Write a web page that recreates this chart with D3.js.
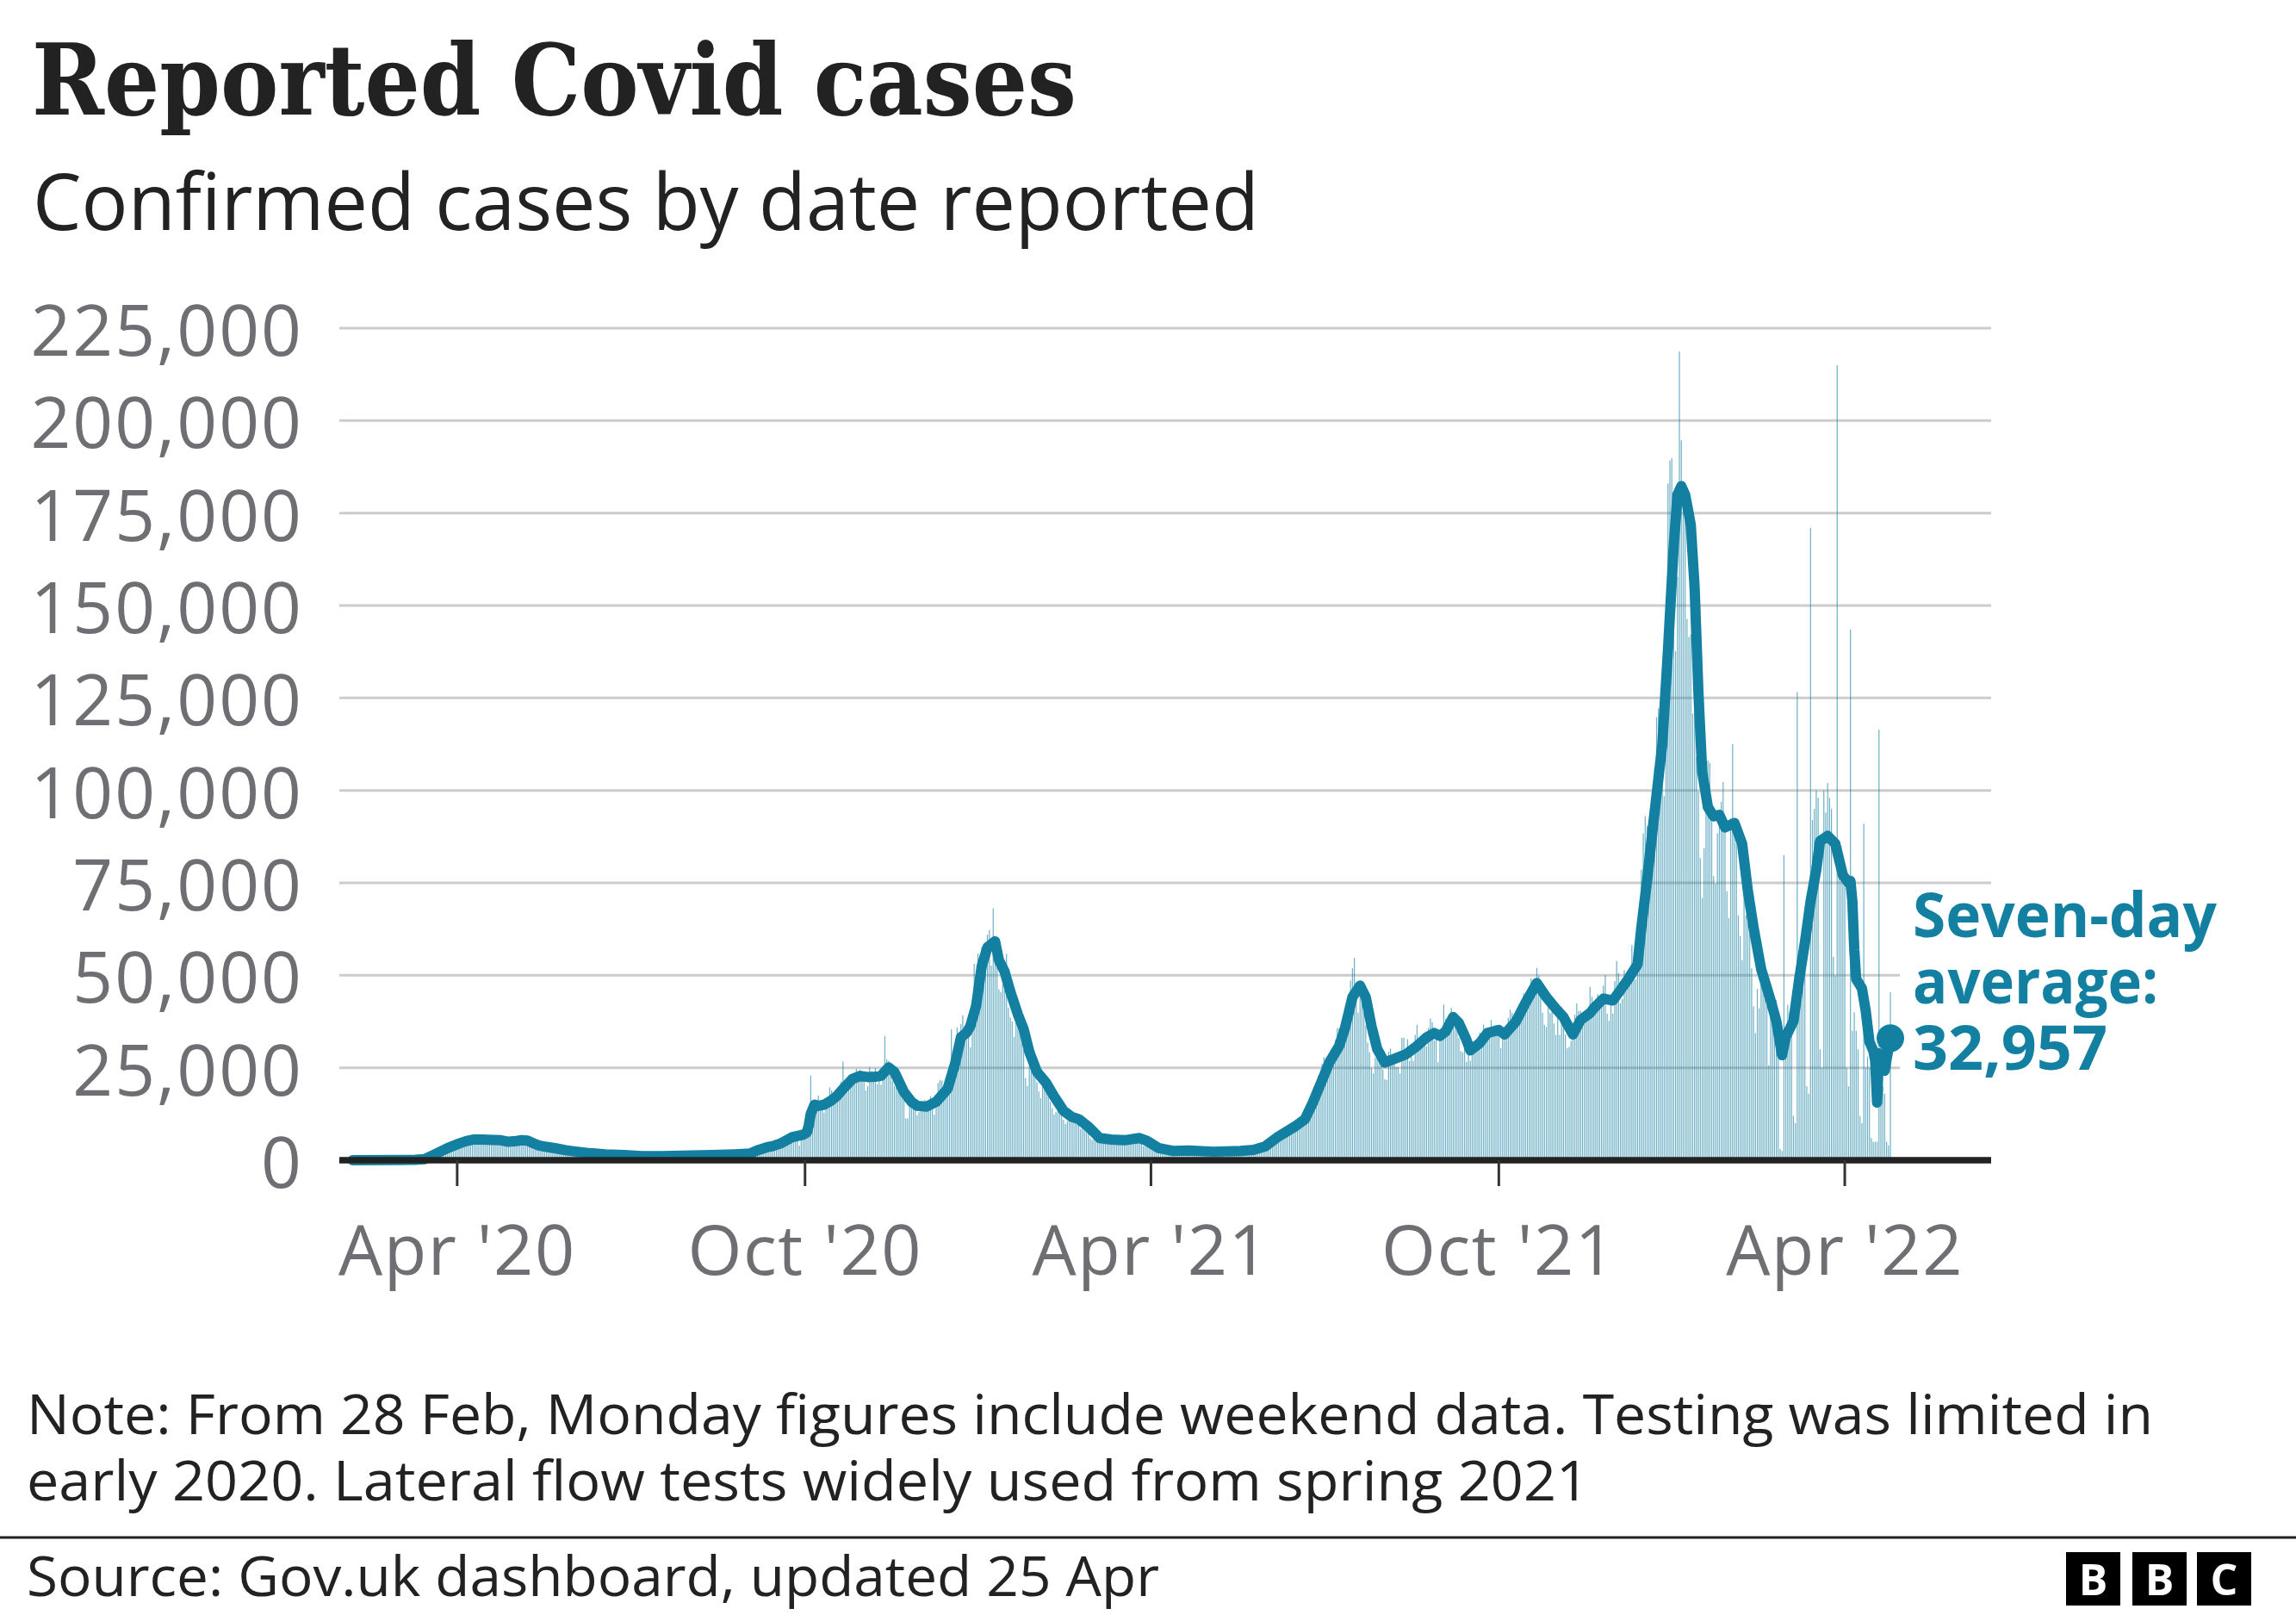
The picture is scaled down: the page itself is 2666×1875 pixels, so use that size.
<!DOCTYPE html>
<html><head><meta charset="utf-8">
<script src="https://cdn.jsdelivr.net/npm/d3@7"></script>
<style>html,body{margin:0;padding:0;background:#fff}svg{display:block}</style>
</head><body>
<svg id="chart" width="2666" height="1875"></svg>
<script>
// ---------------- DATA ----------------
const titleText = "Reported Covid cases";
const subtitleText = "Confirmed cases by date reported";
const noteLines = ["Note: From 28 Feb, Monday figures include weekend data. Testing was limited in",
                   "early 2020. Lateral flow tests widely used from spring 2021"];
const sourceText = "Source: Gov.uk dashboard, updated 25 Apr";
const labelLines = ["Seven-day", "average:", "32,957"];

const yTicks = [0, 25000, 50000, 75000, 100000, 125000, 150000, 175000, 200000, 225000];
const xTickDates = ["2020-04-01", "2020-10-01", "2021-04-01", "2021-10-01", "2022-04-01"];
const xTickLabels = ["Apr '20", "Oct '20", "Apr '21", "Oct '21", "Apr '22"];

// Daily reported cases, thousands, one row per week (Mon..Sun), first day 2020-02-03
const dailyStart = "2020-02-03";
const dailyCases2020 = [
  0,0,0,0,0.001,0,0.003,  0.001,0,0,0,0,0,0,  0,0,0,0,0,0,0.004,  0.004,0.001,0.001,0.011,0.007,0.006,0.013,
  0.004,0.012,0.036,0.029,0.048,0.045,0.069,  0.043,0.062,0.077,0.134,0.208,0.342,0.251,
  0.152,0.407,0.676,0.643,0.714,1.035,0.665,  0.967,1.427,1.452,2.129,2.885,2.546,2.433,
  2.619,3.009,4.324,4.244,4.45,3.735,5.903,  4.5,4.8,6.0,5.5,6.4,5.9,5.6,
  5.2,5.3,5.6,5.9,6.2,5.8,5.5,  5.1,5.0,5.5,5.7,5.9,5.4,5.0,
  4.8,4.7,4.9,5.6,5.4,5.4,5.2,  4.9,5.2,6.0,6.0,5.7,5.2,4.8,
  4.2,4.0,4.1,4.2,4.4,4.1,3.6,  3.3,3.4,3.3,3.3,3.4,3.1,2.8,
  2.5,2.6,2.7,2.8,2.8,2.6,2.4,  2.1,2.3,2.4,2.3,2.3,2.1,1.9,
  1.8,1.9,2.0,1.9,1.8,1.7,1.6,  1.6,1.6,1.7,1.6,1.6,1.5,1.4,
  1.4,1.4,1.5,1.5,1.4,1.3,1.2,  1.2,1.2,1.2,1.2,1.2,1.1,1.0,
  1.0,1.1,1.1,1.1,1.2,1.1,1.0,  1.0,1.1,1.2,1.2,1.2,1.1,1.0,
  1.1,1.2,1.2,1.3,1.3,1.2,1.1,  1.1,1.2,1.3,1.3,1.3,1.3,1.2,
  1.2,1.3,1.4,1.4,1.4,1.3,1.3,  1.3,1.4,1.5,1.5,1.5,1.4,1.3,
  1.4,1.5,1.6,1.6,1.7,1.6,1.5,  1.5,1.6,1.7,1.7,1.8,1.7,1.6,
  1.7,1.8,1.9,2.0,2.9,3.0,3.0,  2.9,2.5,2.7,3.5,3.5,3.5,3.3,
  3.1,3.1,4.0,3.4,4.3,4.4,3.9,  4.4,4.9,6.2,6.6,6.9,6.0,5.7,
  4.0,7.1,7.1,6.9,7.0,12.9,22.9,  12.6,14.5,14.2,17.5,13.9,15.2,12.9,
  13.9,17.2,19.7,18.9,15.7,16.2,16.9,  18.8,21.3,26.7,21.2,20.5,23.0,19.8,
  20.9,22.9,24.7,23.1,24.4,21.9,23.3,  18.9,20.0,25.2,24.1,23.3,24.9,20.6,
  21.4,20.4,22.9,33.5,27.3,26.9,24.9,  21.4,20.1,19.6,22.9,20.3,19.9,18.7,
  11.3,11.3,18.2,17.6,16.0,15.9,12.2,  13.0,13.4,14.9,16.3,15.0,15.5,17.3,
  14.7,12.3,16.5,20.9,21.7,21.5,18.4,  20.3,18.5,25.2,35.4,28.5,27.1,35.9,
  33.4,36.8,39.2,32.7,32.7,34.7,30.5,  41.4,53.1,50.0,55.9,53.3,57.7,54.9
];
const dailyCases2021 = [
  58.8,61.0,62.3,52.6,68.1,59.9,54.9,  46.2,45.5,47.5,48.7,55.8,41.3,38.6,
  37.5,33.4,38.9,37.9,40.3,33.6,30.0,  22.2,20.1,25.3,28.7,29.1,23.3,21.1,
  18.6,16.8,20.6,20.6,19.1,18.3,15.8,  14.1,12.4,13.0,13.5,15.1,13.3,10.9,
  9.8,10.6,12.7,12.1,12.0,10.4,9.8,  10.6,8.5,9.9,9.0,8.5,7.4,6.0,
  5.5,6.4,6.0,6.0,6.0,5.2,5.2,  4.7,5.8,5.9,6.5,5.6,5.5,4.6,
  5.1,5.3,5.8,6.3,4.8,5.6,5.3,  5.3,5.4,6.0,6.4,6.2,4.7,3.8,
  4.6,4.1,4.0,4.5,3.4,3.4,2.3,  2.8,2.4,3.0,2.8,3.2,2.6,1.7,
  3.6,2.5,2.5,2.7,2.6,2.2,1.9,  2.5,2.4,2.4,2.7,2.6,1.9,1.7,
  2.0,2.7,2.2,2.4,2.6,1.9,1.7,  1.6,2.4,2.6,2.5,2.5,2.0,1.8,
  2.4,2.6,2.3,2.8,2.2,2.0,1.9,  2.0,2.4,2.7,2.9,2.7,2.1,1.9,
  2.5,3.0,3.2,3.5,3.4,3.2,3.2,  3.2,3.2,4.3,5.3,6.2,5.8,5.3,
  5.7,6.0,7.5,7.4,8.1,7.7,7.5,  7.7,7.7,9.1,11.0,10.5,10.3,9.3,
  10.6,11.6,16.1,16.7,15.8,18.3,14.9,  22.8,20.5,26.1,27.9,27.1,24.9,24.2,
  27.3,28.8,32.5,35.7,35.7,32.4,31.8,  34.5,36.7,42.3,48.6,51.9,54.7,48.2,
  39.9,46.6,44.1,39.9,36.4,31.8,29.2,  24.9,23.5,27.7,29.6,31.1,26.1,24.5,
  21.9,21.7,29.3,30.2,27.2,28.4,25.2,  25.2,23.5,33.1,33.1,29.6,32.7,26.8,
  28.4,26.9,33.9,36.6,31.9,32.1,31.9,  31.9,30.8,35.8,38.3,37.3,32.4,33.2,
  26.5,32.3,35.7,42.1,38.2,37.6,37.0,  41.2,37.5,38.9,38.0,33.0,29.5,29.2,
  30.8,26.6,30.1,26.9,30.3,30.1,29.6,  31.6,34.5,34.5,36.7,35.6,32.4,33.0,
  37.9,34.5,36.5,35.0,35.6,30.3,34.6,  32.6,33.9,38.5,40.7,39.8,35.8,36.9,
  40.2,38.5,42.8,45.1,44.9,43.4,45.1,  49.2,43.7,49.1,52.0,50.0,44.9,39.9,
  36.6,36.0,43.9,39.8,41.3,37.0,33.9,  40.1,33.9,41.3,37.3,34.0,30.3,30.7,
  32.3,33.1,39.3,42.4,40.4,40.4,36.5,  37.7,39.7,39.3,46.8,44.2,40.9,40.0,
  44.9,42.5,43.7,47.2,50.1,39.6,37.7,  42.6,39.7,48.4,53.9,50.6,42.4,43.6,
  51.4,45.7,51.3,50.9,58.2,54.1,48.9,  54.7,59.6,78.6,88.4,93.0,90.4,82.9,
  91.7,90.6,106.1,119.8,122.2,115.0,105.0,  98.5,129.5,183.0,189.2,189.8,162.6,137.6
];
const dailyCases2022 = [
  157.8,218.7,194.7,179.8,178.3,146.4,141.5,  142.2,120.8,129.6,109.1,99.7,81.7,70.9,
  84.4,94.4,108.1,107.4,95.8,76.8,74.8,  88.4,94.3,96.9,102.3,89.2,72.7,65.5,
  92.4,112.5,88.1,89.2,66.2,60.6,54.1,  74.8,66.2,68.2,68.2,51.9,41.6,34.4,
  46.3,41.1,48.6,51.9,49.1,42.1,25.7,  38.9,45.2,44.0,43.3,37.5,3.0,2.5,
  82.5,36.0,42.0,40.0,40.0,12.0,10.0,  126.6,52.0,58.0,62.0,65.0,20.0,18.0,
  171.0,92.0,95.0,100.0,98.0,30.0,25.0,  100.0,94.0,102.0,98.0,95.0,55.0,50.0,
  215.0,80.0,85.0,80.0,75.0,25.0,20.0,  143.5,35.0,40.0,35.0,30.0,12.0,10.0,
  91.0,25.0,28.0,25.0,6.0,5.0,5.0,  5.0,116.4,22.0,20.0,18.0,5.0,4.0,
  45.4
];

// Seven-day average (thousands)
const avgDates = ["2020-02-06","2020-03-01","2020-03-10","2020-03-15","2020-03-21","2020-03-27","2020-04-02","2020-04-06","2020-04-10","2020-04-14","2020-04-20","2020-04-24","2020-04-28","2020-05-02","2020-05-05","2020-05-08","2020-05-11","2020-05-14","2020-05-18","2020-05-23","2020-05-28","2020-06-03","2020-06-10","2020-06-18","2020-06-28","2020-07-07","2020-07-18","2020-07-28","2020-08-13","2020-08-25","2020-09-02","2020-09-06","2020-09-11","2020-09-14","2020-09-18","2020-09-24","2020-09-30","2020-10-02","2020-10-03","2020-10-04","2020-10-06","2020-10-08","2020-10-11","2020-10-15","2020-10-18","2020-10-21","2020-10-26","2020-10-30","2020-11-03","2020-11-07","2020-11-10","2020-11-14","2020-11-17","2020-11-22","2020-11-26","2020-11-29","2020-12-04","2020-12-09","2020-12-15","2020-12-19","2020-12-22","2020-12-25","2020-12-27","2020-12-30","2021-01-02","2021-01-05","2021-01-09","2021-01-11","2021-01-14","2021-01-17","2021-01-21","2021-01-24","2021-01-27","2021-01-31","2021-02-05","2021-02-09","2021-02-14","2021-02-18","2021-02-22","2021-02-27","2021-03-05","2021-03-11","2021-03-18","2021-03-26","2021-03-30","2021-04-05","2021-04-13","2021-04-21","2021-05-04","2021-05-18","2021-05-25","2021-05-31","2021-06-07","2021-06-16","2021-06-21","2021-06-25","2021-06-30","2021-07-04","2021-07-09","2021-07-12","2021-07-16","2021-07-20","2021-07-23","2021-07-26","2021-07-29","2021-08-02","2021-08-07","2021-08-13","2021-08-19","2021-08-24","2021-08-28","2021-08-31","2021-09-03","2021-09-07","2021-09-10","2021-09-14","2021-09-16","2021-09-21","2021-09-25","2021-10-01","2021-10-04","2021-10-10","2021-10-15","2021-10-21","2021-10-26","2021-10-31","2021-11-04","2021-11-09","2021-11-13","2021-11-18","2021-11-20","2021-11-25","2021-11-30","2021-12-04","2021-12-08","2021-12-13","2021-12-15","2021-12-18","2021-12-21","2021-12-26","2021-12-29","2022-01-01","2022-01-03","2022-01-05","2022-01-07","2022-01-09","2022-01-10","2022-01-12","2022-01-14","2022-01-16","2022-01-19","2022-01-22","2022-01-25","2022-01-28","2022-02-02","2022-02-06","2022-02-09","2022-02-12","2022-02-16","2022-02-21","2022-02-24","2022-02-27","2022-03-01","2022-03-05","2022-03-08","2022-03-11","2022-03-14","2022-03-17","2022-03-19","2022-03-23","2022-03-27","2022-03-31","2022-04-03","2022-04-04","2022-04-05","2022-04-06","2022-04-07","2022-04-10","2022-04-12","2022-04-14","2022-04-16","2022-04-17","2022-04-18","2022-04-19","2022-04-21","2022-04-22","2022-04-23","2022-04-25"];
const avgValues = [0,0.03,0.1,0.3,1.8,3.3,4.5,5.2,5.6,5.6,5.5,5.4,5.0,5.2,5.4,5.3,4.6,4.0,3.6,3.2,2.7,2.3,1.9,1.6,1.4,1.1,1.1,1.2,1.4,1.6,1.8,2.7,3.5,3.8,4.5,6.2,6.9,7.5,9.5,12.5,15.0,14.7,15.0,16.2,17.5,19.3,22.0,22.8,22.5,22.6,22.8,25.1,23.9,18.5,15.8,14.7,14.5,15.8,19.3,26.2,33.2,34.5,36.3,41.7,52.6,57.6,59.2,54.1,51.0,45.6,39.4,35.5,29.3,23.9,20.8,17.3,13.4,11.8,11.1,9.1,6.0,5.6,5.4,6.0,5.2,3.3,2.5,2.6,2.3,2.5,2.8,3.7,6.4,9.2,11.1,15.4,21.6,26.6,30.9,35.6,44.1,47.2,44.1,36.3,30.1,26.4,27.4,28.6,30.9,33.2,34.4,33.6,34.8,38.7,37.1,32.5,29.7,31.7,34.4,35.2,34.0,37.5,42.5,47.9,44.1,41.0,38.7,34.0,37.9,39.8,41.1,43.7,43.2,46.0,48.9,53.0,63.0,75.7,89.8,112.4,138.0,166.0,180.0,182.3,180.0,174.6,171.7,155.0,126.6,105.0,95.5,93.0,93.4,90.0,91.2,85.6,72.9,63.0,51.7,43.2,37.6,28.4,33.4,37.6,48.9,58.8,70.0,78.5,86.3,87.7,85.6,77.1,75.0,75.5,70.0,57.0,49.0,46.5,40.5,32.0,29.6,27.0,15.6,28.9,25.0,24.2,27.3,33.0];

// ---------------- CHART ----------------
const teal = "#1380A1", grey = "#6e6e73", ink = "#222222";
const sans = "'Open Sans', 'Noto Sans', sans-serif";
const svg = d3.select("#chart");
const parse = d3.utcParse("%Y-%m-%d");

const x = d3.scaleUtc().domain([parse("2020-01-30"), parse("2022-06-17")]).range([394, 2312]);
const y = d3.scaleLinear().domain([0, 225000]).range([1347, 381]);

const dailyAll = dailyCases2020.concat(dailyCases2021, dailyCases2022);
const start = parse(dailyStart);
const daily = dailyAll.map((v, i) => ({date: d3.utcDay.offset(start, i), value: v * 1000}));
const avg = avgDates.map((d, i) => ({date: parse(d), value: avgValues[i] * 1000}));

// title & subtitle
function fitText(sel, w) { sel.attr("textLength", w).attr("lengthAdjust", "spacingAndGlyphs"); }
svg.append("text").attr("x", 37).attr("y", 133).text(titleText)
  .attr("font-family", "'DejaVu Serif', serif").attr("font-weight", 700).attr("font-size", 114)
  .attr("fill", ink).call(fitText, 1213);
svg.append("text").attr("x", 38).attr("y", 267).text(subtitleText)
  .attr("font-family", sans).attr("font-size", 92).attr("fill", ink).call(fitText, 1424);

// gridlines
const grid = svg.append("g");
grid.selectAll("line").data(yTicks.filter(t => t > 0)).join("line")
  .attr("x1", 394).attr("x2", 2312).attr("y1", d => y(d)).attr("y2", d => y(d))
  .attr("stroke", "#cccccc").attr("stroke-width", 3);

// y tick labels
svg.append("g").selectAll("text").data(yTicks).join("text")
  .attr("x", 352).attr("y", d => y(d) + 32).attr("text-anchor", "end")
  .attr("font-family", sans).attr("font-size", 82).attr("letter-spacing", 2).attr("fill", grey)
  .text(d => d3.format(",")(d));

// white box behind label
svg.append("rect").attr("x", 2206).attr("y", 1027).attr("width", 140).attr("height", 290).attr("fill", "#fff");

// daily bars
svg.append("g").selectAll("rect").data(daily.filter(d => d.value > 0)).join("rect")
  .attr("x", d => x(d.date) - 0.6).attr("width", 1.2)
  .attr("y", d => y(d.value)).attr("height", d => y(0) - y(d.value))
  .attr("fill", teal).attr("opacity", 0.62);

// seven-day average line
const line = d3.line().x(d => x(d.date)).y(d => y(d.value));
svg.append("path").datum(avg).attr("d", line).attr("fill", "none")
  .attr("stroke", teal).attr("stroke-width", 12).attr("stroke-linejoin", "round").attr("stroke-linecap", "round");
const last = avg[avg.length - 1];
svg.append("circle").attr("cx", x(last.date)).attr("cy", y(last.value)).attr("r", 16).attr("fill", teal);

// x axis
svg.append("line").attr("x1", 394).attr("x2", 2312).attr("y1", y(0)).attr("y2", y(0))
  .attr("stroke", ink).attr("stroke-width", 7.5);
const xt = svg.append("g");
xt.selectAll("line").data(xTickDates).join("line")
  .attr("x1", d => x(parse(d))).attr("x2", d => x(parse(d)))
  .attr("y1", y(0)).attr("y2", 1377).attr("stroke", "#333").attr("stroke-width", 3);
xt.selectAll("text").data(xTickDates).join("text")
  .attr("x", d => x(parse(d))).attr("y", 1480).attr("text-anchor", "middle")
  .attr("font-family", sans).attr("font-size", 81).attr("letter-spacing", 1.5).attr("fill", grey)
  .text((d, i) => xTickLabels[i]);

// label
const lab = svg.append("g");
const labW = [353, 285, 226];
labelLines.forEach((t, i) => {
  lab.append("text").attr("x", 2221).attr("y", 1088 + i * 77).text(t)
    .attr("font-family", sans).attr("font-weight", 700).attr("font-size", 72).attr("fill", teal)
    .call(fitText, labW[i]);
});

// notes
const noteW = [2469, 1814];
noteLines.forEach((t, i) => {
  svg.append("text").attr("x", 31).attr("y", 1665 + i * 77).text(t)
    .attr("font-family", sans).attr("font-size", 64).attr("fill", ink).call(fitText, noteW[i]);
});
svg.append("line").attr("x1", 0).attr("x2", 2666).attr("y1", 1785).attr("y2", 1785)
  .attr("stroke", ink).attr("stroke-width", 3);
svg.append("text").attr("x", 31).attr("y", 1853).text(sourceText)
  .attr("font-family", sans).attr("font-size", 64).attr("fill", ink).call(fitText, 1315);

// BBC blocks
const bbcLetters = ["B", "B", "C"];
const bbcX = [2399, 2476, 2551];
const bbc = svg.append("g");
bbcLetters.forEach((c, i) => {
  bbc.append("rect").attr("x", bbcX[i]).attr("y", 1802).attr("width", 63).attr("height", 62).attr("fill", "#000");
  bbc.append("text").attr("x", bbcX[i] + 31.5).attr("y", 1852).attr("text-anchor", "middle")
    .attr("font-family", sans).attr("font-weight", 700).attr("font-size", 50).attr("fill", "#fff").text(c);
});
</script>
</body></html>
